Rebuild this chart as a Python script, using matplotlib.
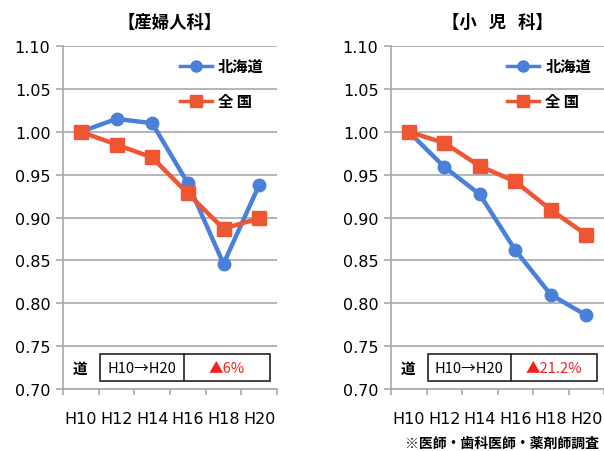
import matplotlib.pyplot as plt
from matplotlib.patches import Rectangle

plt.rcParams['font.family'] = ['Noto Sans CJK JP', 'DejaVu Sans']

years = ['H10', 'H12', 'H14', 'H16', 'H18', 'H20']

# 産婦人科
obst_hokkaido = [1.000, 1.015, 1.010, 0.940, 0.846, 0.938]
obst_national = [1.000, 0.985, 0.970, 0.928, 0.887, 0.899]
obst_change = '▲6%'

# 小児科
ped_hokkaido = [1.000, 0.959, 0.927, 0.862, 0.810, 0.786]
ped_national = [1.000, 0.987, 0.960, 0.942, 0.909, 0.880]
ped_change = '▲21.2%'

blue = '#4A80D9'
red = '#EE5533'
grid_c = '#a8a8a8'

fig = plt.figure(figsize=(6.04, 4.52), dpi=100)


def draw_panel(rect, title, hok, nat, change, div):
    ax = fig.add_axes(rect)
    x = range(len(years))
    ax.plot(x, hok, color=blue, lw=3.2, marker='o', ms=9, label='北海道')
    ax.plot(x, nat, color=red, lw=3.2, marker='s', ms=10, label='全 国')
    ax.set_xlim(-0.5, len(years) - 0.5)
    ax.set_ylim(0.70, 1.10)
    ax.set_yticks([0.70 + 0.05 * i for i in range(9)])
    ax.set_yticklabels([f'{0.70 + 0.05 * i:.2f}' for i in range(9)],
                       family='DejaVu Sans', fontsize=11.5)
    ax.yaxis.grid(True, color=grid_c, lw=1.2)
    ax.set_axisbelow(True)
    ax.tick_params(axis='y', length=5, color=grid_c, width=1.2, pad=4)
    # category labels centred, ticks between categories
    ax.set_xticks(list(x))
    ax.set_xticklabels(years, family='DejaVu Sans', fontsize=11.5)
    ax.set_xticks([i - 0.5 for i in range(len(years) + 1)], minor=True)
    ax.tick_params(axis='x', which='major', length=0, pad=16)
    ax.tick_params(axis='x', which='minor', length=4, color=grid_c, width=1.2)
    for s in ['top', 'right']:
        ax.spines[s].set_visible(False)
    for s in ['left', 'bottom']:
        ax.spines[s].set_color(grid_c)
        ax.spines[s].set_linewidth(1.2)
    ax.set_title(title, fontsize=12.5, fontweight='bold', pad=14)
    leg = ax.legend(loc='upper left', bbox_to_anchor=(0.545, 0.965), frameon=False,
                    borderaxespad=0, borderpad=0, handlelength=2.1,
                    handletextpad=0.4, labelspacing=1.25,
                    prop={'size': 11, 'weight': 'bold'})
    for h in leg.legend_handles:
        h.set_linewidth(2.5)
        h.set_markersize(8)

    # summary box
    x0, x1, y0, y1 = 0.173, 0.965, 0.023, 0.102
    ax.text(0.079, (y0 + y1) / 2, '道', transform=ax.transAxes,
            ha='center', va='center', fontsize=10.5, fontweight='bold')
    ax.add_patch(Rectangle((x0, y0), x1 - x0, y1 - y0, transform=ax.transAxes,
                           facecolor='white', edgecolor='#222222', lw=1.2))
    ax.plot([div, div], [y0, y1], transform=ax.transAxes, color='#222222', lw=1.2)
    ax.text((x0 + div) / 2, (y0 + y1) / 2, 'H10→H20', transform=ax.transAxes,
            ha='center', va='center', fontsize=10.5)
    ax.text((div + x1) / 2, (y0 + y1) / 2, change, transform=ax.transAxes,
            ha='center', va='center', fontsize=10.5, color='#F02020')
    return ax


draw_panel([63 / 604, 62 / 452, 214 / 604, 343 / 452], '【産婦人科】',
           obst_hokkaido, obst_national, obst_change, 0.565)
draw_panel([391 / 604, 62 / 452, 213 / 604, 343 / 452], '【小   児   科】',
           ped_hokkaido, ped_national, ped_change, 0.563)

fig.text(405 / 604, 1 / 452, '※医師・歯科医師・薬剤師調査', fontsize=10,
         fontweight='bold', va='bottom', ha='left')

fig.savefig('out.png', dpi=100)
